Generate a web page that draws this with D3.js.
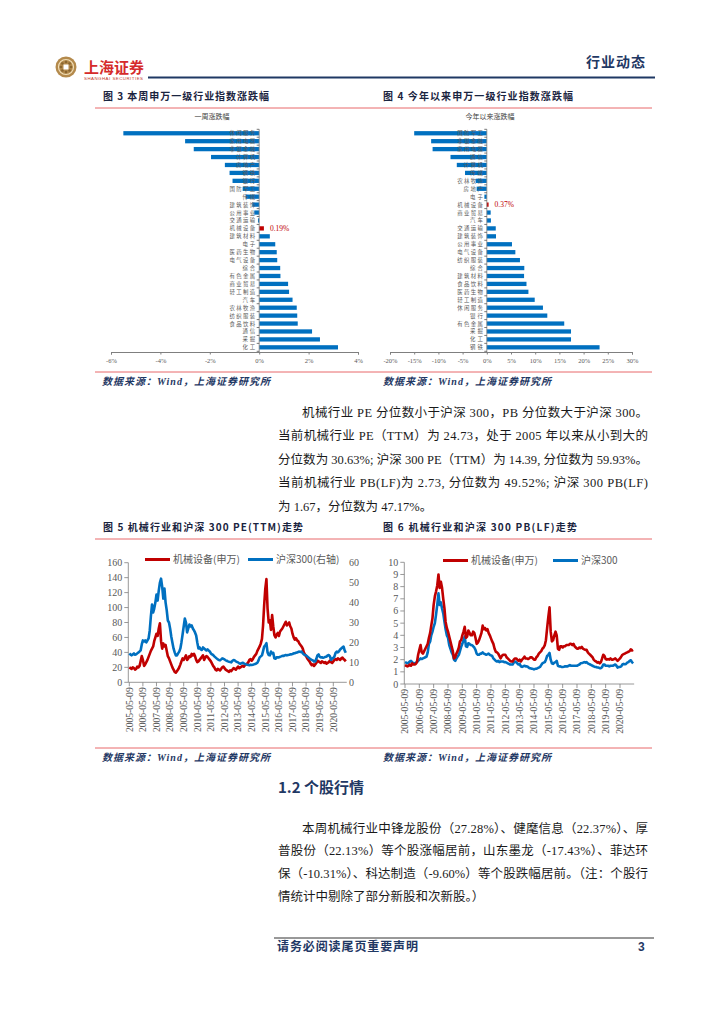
<!DOCTYPE html>
<html><head><meta charset="utf-8">
<script src="https://cdn.jsdelivr.net/npm/d3@7"></script>
<style>body{margin:0;background:#fff} svg{display:block}</style>
</head><body>
<svg id="page" width="724" height="1024"></svg>
<script>
// ---------- DATA ----------
const weekCats = ["休闲服务","家用电器","非银金融","计算机","房地产","钢铁","银行","国防军工","传媒","建筑装饰","公用事业","交通运输","机械设备","建筑材料","电子","医药生物","电气设备","综合","有色金属","商业贸易","轻工制造","汽车","农林牧渔","纺织服装","食品饮料","通信","采掘","化工"];
const weekVals = [-5.5,-3.0,-2.65,-1.95,-1.39,-1.2,-1.08,-0.67,-0.54,-0.28,-0.2,-0.05,0.19,0.43,0.65,0.71,0.73,0.85,0.86,1.17,1.21,1.35,1.52,1.54,1.56,2.14,2.46,3.19];
const weekTicks = [-6,-4,-2,0,2,4];

const ytdCats = ["国防军工","非银金融","家用电器","通信","计算机","传媒","农林牧渔","房地产","电子","机械设备","商业贸易","汽车","交通运输","建筑装饰","公用事业","电气设备","纺织服装","综合","建筑材料","食品饮料","医药生物","轻工制造","休闲服务","银行","有色金属","采掘","化工","钢铁"];
const ytdVals = [-15.0,-11.5,-11.2,-7.5,-6.2,-4.5,-2.3,-2.1,-0.5,0.37,0.8,0.85,1.85,1.9,5.2,5.9,6.85,7.75,7.7,8.2,8.6,9.9,11.6,12.5,16.0,17.4,17.4,23.3];
const ytdTicks = [-20,-15,-10,-5,0,5,10,15,20,25,30];

const dateTickLabels = ["2005-05-09","2006-05-09","2007-05-09","2008-05-09","2009-05-09","2010-05-09","2011-05-09","2012-05-09","2013-05-09","2014-05-09","2015-05-09","2016-05-09","2017-05-09","2018-05-09","2019-05-09","2020-05-09"];
// monthly observations 2005-05 .. 2021-04
const firstMonth = [2005, 4];
const peMach = [
 20,19,18,20,19,17,18,21,
 20,22,28,35,30,22,24,27,30,34,38,42,
 45,48,55,60,65,62,72,79,55,45,52,48,
 50,42,35,32,28,24,20,17,14,13,15,17,
 20,24,28,32,30,33,36,30,32,35,34,38,
 36,38,35,30,27,28,30,32,34,36,30,33,
 35,34,32,30,28,25,22,20,17,16,18,17,
 16,18,20,21,19,17,16,15,14,16,15,17,
 19,18,17,19,21,19,20,21,22,21,23,24,
 25,27,30,31,29,31,34,36,38,42,45,48,
 52,58,75,103,125,138,99,80,83,70,90,75,
 63,60,64,66,62,68,70,72,75,78,81,76,
 78,80,75,72,65,60,57,59,56,55,52,50,
 48,45,40,37,35,32,30,28,25,23,24,22,
 24,26,29,28,27,26,28,27,26,27,25,26,
 27,29,27,26,28,30,31,30,32,31,30,32,
 33,31,30,28];
const peHs300 = [
 14.5,14,13.5,14,14.5,13.8,14,14.5,
 15,15.5,16,19,21,20.5,21,20,21,22,26,33,
 39,35,37,40,44,41,46,50,52,48,42,47,
 40,36,31,30,27,23,20,17,15,13.5,13.5,14.5,
 15.4,17,20,24,28,32,30,25,27,29,28,28.5,
 27,26,25,23.5,20,17,17.5,16.5,16.2,17.5,17,16.5,
 16,16.5,16,15.5,14.5,14,13.7,13,12.5,12,11.5,11.2,
 11,11.5,12,11.8,11.5,11,10.8,10.5,10.3,10.2,10,10.8,
 11.2,11,10.5,10.2,10,9.5,9.3,9.6,9.8,9.5,9.2,9.0,
 8.8,8.7,8.6,8.8,8.7,8.8,9,9.2,9.4,9.8,11,12.5,
 13,13.5,15.5,17.9,18.5,19.6,15,13.7,13.5,15.4,14.5,14.8,
 12,11.8,12.5,12.6,12.5,12.8,13,13.3,13.2,13.5,13.7,13.5,
 13.7,13.8,14,14,14.2,14.5,14.6,14.8,15,15.2,15.4,15.2,
 15.4,14.5,14,13.7,13.5,13,12.5,12,11.5,11.2,11,10.4,
 10.5,11.8,13.5,14,12.8,12.5,12.6,12.3,12.5,12.8,12.8,13.5,
 13.7,13,11.2,12,12.2,13,14.8,15.4,15,15.5,16.5,17,
 17.5,17.9,16,14.8];
const pbMach = [
 1.55,1.5,1.45,1.5,1.6,1.5,1.7,1.6,
 1.6,1.65,1.8,2.4,2.8,3.2,2.6,2.5,2.7,2.9,3.1,3.3,
 3.8,4.2,4.8,5.4,6.5,7.2,7.6,8.1,9.0,7.9,8.4,7.9,
 7.0,6.2,5.1,4.6,4.3,3.9,3.5,3.1,2.7,2.1,2.2,2.5,
 2.7,3.0,3.5,3.6,4.0,4.3,4.7,3.8,3.9,4.4,4.2,4.0,
 4.0,4.3,4.2,3.8,3.3,3.4,3.6,3.9,4.2,4.8,4.5,4.6,
 4.4,4.5,4.2,4.0,3.75,3.5,3.3,2.9,2.65,2.6,2.5,2.3,
 2.1,2.3,2.4,2.4,2.4,2.2,2.1,2.0,1.9,1.85,1.85,2.0,
 2.1,2.1,2.0,1.9,2.0,1.85,2.0,2.1,2.25,2.1,2.1,2.05,
 2.1,2.2,2.2,2.1,2.0,2.0,2.2,2.3,2.5,2.6,2.7,2.9,
 3.0,3.2,3.6,4.6,5.5,6.3,4.3,3.5,3.6,4.0,4.3,4.0,
 2.9,2.8,3.1,3.1,3.0,3.1,3.1,3.2,3.2,3.2,3.3,3.3,
 3.2,3.3,3.1,3.0,2.9,2.9,3.0,2.95,3.05,2.9,2.85,2.8,
 2.8,2.6,2.5,2.4,2.3,2.2,2.0,1.9,1.85,1.75,1.8,1.7,
 1.8,2.1,2.4,2.3,2.05,2.0,2.05,2.0,2.1,2.0,2.0,2.05,
 2.1,2.0,1.9,2.0,2.1,2.25,2.4,2.45,2.5,2.55,2.6,2.65,
 2.7,2.85,2.75,2.8];
const pbHs300 = [
 1.8,1.75,1.7,1.75,1.85,1.9,1.8,1.7,
 1.7,1.75,1.8,1.9,2.0,2.1,2.05,2.1,2.15,2.2,2.25,2.6,
 3.3,3.5,4.0,4.3,4.7,5.0,5.7,6.5,7.45,6.5,6.7,6.2,
 5.8,5.1,4.5,4.0,3.8,3.2,2.9,2.6,2.4,2.0,1.9,2.1,
 2.25,2.4,2.7,3.05,3.3,3.6,3.9,3.1,3.05,3.35,3.3,3.2,
 3.2,3.1,3.0,2.8,2.5,2.4,2.4,2.5,2.5,2.6,2.5,2.45,
 2.4,2.45,2.5,2.4,2.35,2.3,2.1,2.0,1.9,1.85,1.9,1.8,
 1.85,1.85,1.85,1.8,1.8,1.75,1.7,1.65,1.6,1.6,1.6,1.75,
 1.85,1.8,1.7,1.6,1.65,1.45,1.4,1.45,1.5,1.45,1.45,1.4,
 1.3,1.3,1.25,1.25,1.2,1.25,1.25,1.3,1.35,1.4,1.55,1.7,
 1.75,1.8,2.0,2.3,2.4,2.55,2.0,1.7,1.65,1.75,1.8,1.9,
 1.5,1.45,1.45,1.4,1.4,1.42,1.45,1.45,1.45,1.5,1.55,1.5,
 1.5,1.5,1.5,1.5,1.5,1.55,1.6,1.7,1.72,1.75,1.8,1.75,
 1.8,1.7,1.65,1.6,1.55,1.5,1.45,1.4,1.4,1.35,1.35,1.3,
 1.3,1.4,1.6,1.6,1.5,1.5,1.5,1.45,1.5,1.5,1.5,1.55,
 1.6,1.5,1.35,1.4,1.4,1.45,1.6,1.65,1.62,1.65,1.75,1.8,
 1.9,1.95,1.8,1.7];
const seriesNames = ["机械设备(申万)", "沪深300(右轴)", "沪深300"];

// ---------- RENDER ----------
const svg = d3.select("#page");
const NAVY = "#1f3864", RED = "#c00000", BLUE = "#0070c0", GRAY = "#595959";
const CJK = "'Noto Sans CJK SC', sans-serif";
const SERIF = "'Liberation Serif', 'Noto Sans CJK SC', serif";
const parseD = d3.timeParse("%Y-%m-%d");
const months = peMach.map((_, i) => new Date(firstMonth[0], firstMonth[1] + i, 9));

function text(g, x, y, s, o = {}) {
  const t = g.append("text").attr("x", x).attr("y", y).text(s)
    .attr("font-family", o.ff || CJK).attr("font-size", o.fs || 10)
    .attr("fill", o.fill || "#000").attr("text-anchor", o.anchor || "start");
  if (o.fw) t.attr("font-weight", o.fw);
  if (o.fi) t.attr("font-style", o.fi);
  if (o.len) t.attr("textLength", o.len).attr("lengthAdjust", "spacing");
  if (o.ls) t.attr("letter-spacing", o.ls);
  return t;
}

// header
const logo = svg.append("g");
logo.append("circle").attr("cx", 66).attr("cy", 67).attr("r", 10.5).attr("fill", "#b48a4c");
logo.append("circle").attr("cx", 66).attr("cy", 67).attr("r", 7.5).attr("fill", "none").attr("stroke", "#f1dfb8").attr("stroke-width", 1.2);
for (let k = 0; k < 8; k++) {
  const a = k * Math.PI / 4;
  logo.append("circle").attr("cx", 66 + 5 * Math.cos(a)).attr("cy", 67 + 5 * Math.sin(a)).attr("r", 1.3).attr("fill", "#8a6630");
}
logo.append("rect").attr("x", 63.5).attr("y", 64.5).attr("width", 5).attr("height", 5).attr("fill", "#fff");
text(svg, 84, 73, "上海证券", {fs: 15, fw: "bold", fill: "#d52b2b", len: 60});
text(svg, 84, 79.5, "SHANGHAI SECURITIES", {ff: "'Liberation Sans', sans-serif", fs: 4.4, fill: "#c0392b", len: 59});
svg.append("line").attr("x1", 148).attr("x2", 655).attr("y1", 77.5).attr("y2", 77.5).attr("stroke", NAVY).attr("stroke-width", 2);
text(svg, 646, 67, "行业动态", {fs: 14, fw: "bold", fill: NAVY, anchor: "end", ls: 1});

// figure title rows
function figRow(y, left, lenL, right, lenR) {
  text(svg, 103, y, left, {fs: 10, fw: "bold", fill: "#1a2440", len: lenL});
  text(svg, 383, y, right, {fs: 10, fw: "bold", fill: "#1a2440", len: lenR});
  svg.append("line").attr("x1", 95).attr("x2", 652).attr("y1", y + 8).attr("y2", y + 8).attr("stroke", "#e8696b").attr("stroke-width", 1);
}
figRow(100, "图 3  本周申万一级行业指数涨跌幅", 166, "图 4  今年以来申万一级行业指数涨跌幅", 190);
figRow(531, "图 5  机械行业和沪深 300 PE(TTM)走势", 200, "图 6  机械行业和沪深 300 PB(LF)走势", 194);

function sourceRow(y) {
  svg.append("line").attr("x1", 95).attr("x2", 652).attr("y1", y - 13).attr("y2", y - 13).attr("stroke", "#e8696b").attr("stroke-width", 1);
  text(svg, 102, y, "数据来源：Wind，上海证券研究所", {ff: SERIF, fs: 10, fw: "bold", fi: "italic", fill: NAVY, len: 168});
  text(svg, 383, y, "数据来源：Wind，上海证券研究所", {ff: SERIF, fs: 10, fw: "bold", fi: "italic", fill: NAVY, len: 168});
}
sourceRow(385);
sourceRow(761);

// bar charts
function barChart(cats, vals, ticks, domain, xr, title, titleX, hiCat, hiLabel) {
  const g = svg.append("g");
  const x = d3.scaleLinear().domain(domain).range(xr);
  const y = d3.scaleBand().domain(cats).range([129.3, 351.3]).paddingInner(0.46).paddingOuter(0.23);
  text(g, titleX, 119, title, {fs: 7, fill: "#404040", anchor: "middle"});
  g.selectAll("rect.bar").data(cats).join("rect")
    .attr("x", (d, i) => x(Math.min(0, vals[i])))
    .attr("width", (d, i) => Math.abs(x(vals[i]) - x(0)))
    .attr("y", d => y(d)).attr("height", y.bandwidth())
    .attr("fill", d => d === hiCat ? RED : BLUE);
  // category axis at zero
  const x0 = x(0);
  g.append("line").attr("x1", x0).attr("x2", x0).attr("y1", 129.3).attr("y2", 352).attr("stroke", "#7f7f7f").attr("stroke-width", 0.8);
  const step = y.step();
  d3.range(cats.length + 1).forEach(k => {
    const yy = 129.3 + k * step;
    g.append("line").attr("x1", x0 - 2.5).attr("x2", x0).attr("y1", yy).attr("y2", yy).attr("stroke", "#404040").attr("stroke-width", 0.7);
  });
  cats.forEach(c => {
    text(g, x0 - 4, y(c) + y.bandwidth() / 2 + 2, c, {fs: 5.4, fill: GRAY, anchor: "end", len: c.length * 6.4});
  });
  // value axis
  const ax = g.append("g").attr("transform", "translate(0,352)")
    .call(d3.axisBottom(x).tickValues(ticks).tickSize(2.5).tickFormat(d => d + "%"));
  ax.select(".domain").attr("stroke", "#7f7f7f");
  ax.selectAll(".tick line").attr("stroke", "#7f7f7f");
  ax.selectAll("text").attr("font-family", SERIF).attr("font-size", 6.5).attr("fill", GRAY).attr("dy", "0.9em");
  const hi = cats.indexOf(hiCat);
  text(g, x(vals[hi]) + 6, y(hiCat) + y.bandwidth() / 2 + 2.4, hiLabel, {ff: SERIF, fs: 7.5, fill: RED});
}
barChart(weekCats, weekVals, weekTicks, [-6, 4], [111, 358], "一周涨跌幅", 212, "机械设备", "0.19%");
barChart(ytdCats, ytdVals, ytdTicks, [-20, 30], [390, 632], "今年以来涨跌幅", 490, "机械设备", "0.37%");

// line charts
function lineChart(cfg) {
  const g = svg.append("g");
  const x = d3.scaleTime().domain([parseD(dateTickLabels[0]), parseD(dateTickLabels[dateTickLabels.length - 1])]).range(cfg.xr);
  const yL = d3.scaleLinear().domain(cfg.leftDomain).range([cfg.y0, cfg.y1]);
  const endX = x(months[months.length - 1]);
  g.append("line").attr("x1", cfg.axisX).attr("x2", cfg.axisX).attr("y1", cfg.y1).attr("y2", cfg.y0).attr("stroke", "#7f7f7f").attr("stroke-width", 0.8);
  cfg.leftTicks.forEach(v => {
    g.append("line").attr("x1", cfg.axisX - 4).attr("x2", cfg.axisX).attr("y1", yL(v)).attr("y2", yL(v)).attr("stroke", "#7f7f7f").attr("stroke-width", 0.8);
    text(g, cfg.axisX - 6, yL(v) + 3.5, String(v), {ff: SERIF, fs: 10, fill: GRAY, anchor: "end"});
  });
  g.append("line").attr("x1", cfg.axisX).attr("x2", endX + 1).attr("y1", cfg.y0).attr("y2", cfg.y0).attr("stroke", "#7f7f7f").attr("stroke-width", 0.8);
  dateTickLabels.forEach(s => {
    const xx = x(parseD(s));
    g.append("line").attr("x1", xx).attr("x2", xx).attr("y1", cfg.y0).attr("y2", cfg.y0 + 4).attr("stroke", "#7f7f7f").attr("stroke-width", 0.8);
    text(g, 0, 0, s, {ff: SERIF, fs: 9.6, fill: GRAY, anchor: "end"})
      .attr("transform", `translate(${xx},${cfg.y0 + 5}) rotate(-90)`).attr("dy", "0.35em");
  });
  let yR = null;
  if (cfg.rightDomain) {
    yR = d3.scaleLinear().domain(cfg.rightDomain).range([cfg.y0, cfg.y1]);
    cfg.rightTicks.forEach(v => text(g, cfg.rightX, yR(v) + 3.5, String(v), {ff: SERIF, fs: 10, fill: GRAY}));
  }
  const lineA = d3.line().x((d, i) => x(months[i])).y(d => yL(d));
  const lineB = d3.line().x((d, i) => x(months[i])).y(d => (yR || yL)(d));
  const drawA = () => g.append("path").datum(cfg.a).attr("d", lineA).attr("fill", "none").attr("stroke", RED).attr("stroke-width", 2.6).attr("stroke-linejoin", "round");
  const drawB = () => g.append("path").datum(cfg.b).attr("d", lineB).attr("fill", "none").attr("stroke", BLUE).attr("stroke-width", 2.6).attr("stroke-linejoin", "round");
  if (cfg.blueOnTop) { drawA(); drawB(); } else { drawB(); drawA(); }
  const ly = cfg.legendY;
  g.append("line").attr("x1", cfg.legA).attr("x2", cfg.legA + 25).attr("y1", ly).attr("y2", ly).attr("stroke", RED).attr("stroke-width", 3);
  text(g, cfg.legA + 28, ly + 3.6, seriesNames[0], {fs: 10, fill: GRAY});
  g.append("line").attr("x1", cfg.legB).attr("x2", cfg.legB + 25).attr("y1", ly).attr("y2", ly).attr("stroke", BLUE).attr("stroke-width", 3);
  text(g, cfg.legB + 28, ly + 3.6, cfg.nameB, {fs: 10, fill: GRAY});
}
lineChart({xr: [129.3, 333.3], axisX: 128.3, y0: 682.3, y1: 562.7, leftDomain: [0, 160], leftTicks: d3.range(0, 161, 20),
  rightDomain: [0, 60], rightTicks: d3.range(0, 61, 10), rightX: 349, a: peMach, b: peHs300, blueOnTop: true,
  legendY: 559.5, legA: 145, legB: 248, nameB: seriesNames[1]});
lineChart({xr: [405, 620], axisX: 404.3, y0: 684, y1: 562.3, leftDomain: [0, 10], leftTicks: d3.range(0, 11, 1),
  a: pbMach, b: pbHs300, blueOnTop: false, legendY: 560.5, legA: 443, legB: 553, nameB: seriesNames[2]});

// body text
const BODY = {ff: SERIF, fs: 12.5, fill: "#1a1a1a"};
function para(lines, y0, dy) {
  lines.forEach((l, i) => {
    const o = Object.assign({}, BODY);
    if (l.full) o.len = 648 - l.x;
    text(svg, l.x, y0 + i * dy, l.s, o);
  });
}
para([
  {x: 302, s: "机械行业 PE 分位数小于沪深 300，PB 分位数大于沪深 300。", full: true},
  {x: 278, s: "当前机械行业 PE（TTM）为 24.73，处于 2005 年以来从小到大的", full: true},
  {x: 278, s: "分位数为 30.63%; 沪深 300 PE（TTM）为 14.39, 分位数为 59.93%。", full: true},
  {x: 278, s: "当前机械行业 PB(LF)为 2.73, 分位数为 49.52%; 沪深 300 PB(LF)", full: true},
  {x: 278, s: "为 1.67，分位数为 47.17%。"}
], 416.5, 23.5);

text(svg, 278, 793, "1.2  个股行情", {fs: 15, fw: "bold", fill: NAVY});

para([
  {x: 302, s: "本周机械行业中锋龙股份（27.28%）、健麾信息（22.37%）、厚", full: true},
  {x: 278, s: "普股份（22.13%）等个股涨幅居前，山东墨龙（-17.43%）、菲达环", full: true},
  {x: 278, s: "保（-10.31%）、科达制造（-9.60%）等个股跌幅居前。（注：个股行", full: true},
  {x: 278, s: "情统计中剔除了部分新股和次新股。）"}
], 832.5, 22.7);

// footer
svg.append("line").attr("x1", 274).attr("x2", 654).attr("y1", 938).attr("y2", 938).attr("stroke", "#333").attr("stroke-width", 1);
text(svg, 277, 951, "请务必阅读尾页重要声明", {fs: 12, fw: "bold", fill: NAVY, len: 141});
text(svg, 638, 951, "3", {ff: "'Liberation Sans', sans-serif", fs: 12, fw: "bold", fill: NAVY});
</script>
</body></html>
